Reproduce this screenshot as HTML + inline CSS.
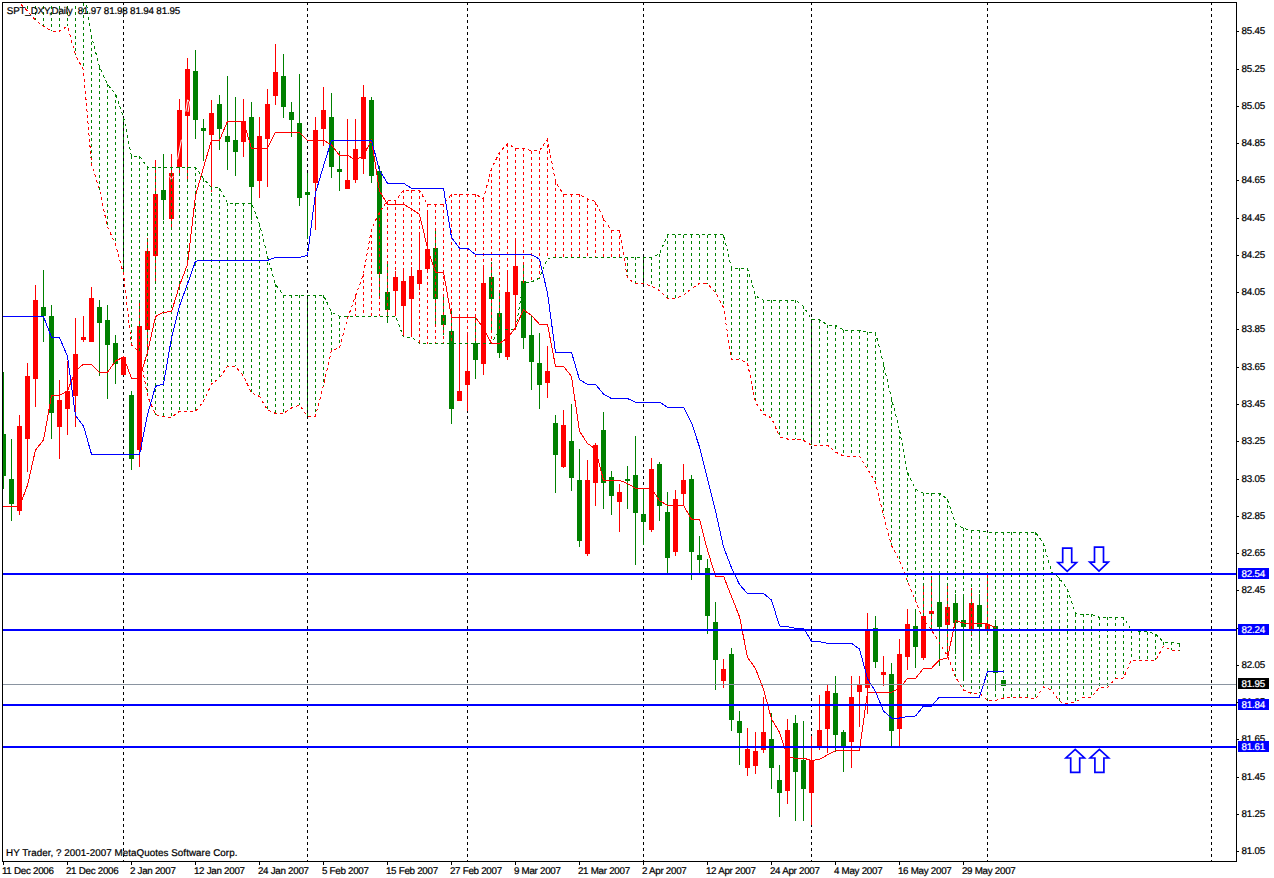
<!DOCTYPE html>
<html><head><meta charset="utf-8"><title>SPT_DXY Daily</title>
<style>
html,body{margin:0;padding:0;background:#fff}
body{width:1274px;height:878px;overflow:hidden}
svg{display:block}
.t{font-family:"Liberation Sans",Arial,sans-serif;font-size:9.8px;fill:#000;stroke:#000;stroke-width:0.22px;text-rendering:geometricPrecision}
.p{letter-spacing:-0.226px}
.d{letter-spacing:-0.277px}
.h{letter-spacing:-0.166px}
.f{letter-spacing:0.06px}
.w{fill:#fff;stroke:#fff}
</style></head><body>
<svg width="1274" height="878" viewBox="0 0 1274 878">
<rect width="1274" height="878" fill="#fff"/>
<defs><clipPath id="c"><rect x="3" y="3" width="1233" height="858"/></clipPath></defs>
<g shape-rendering="crispEdges" clip-path="url(#c)">
<g stroke="#000" stroke-width="1" stroke-dasharray="3 3" stroke-dashoffset="1">
<line x1="123.5" y1="3" x2="123.5" y2="861"/>
<line x1="307.5" y1="3" x2="307.5" y2="861"/>
<line x1="467.5" y1="3" x2="467.5" y2="861"/>
<line x1="643.5" y1="3" x2="643.5" y2="861"/>
<line x1="811.5" y1="3" x2="811.5" y2="861"/>
<line x1="987.5" y1="3" x2="987.5" y2="861"/>
<line x1="1211.5" y1="3" x2="1211.5" y2="861"/>
</g>
<rect x="3" y="372" width="1" height="117" fill="#008000"/><rect x="1" y="434" width="5" height="42" fill="#008000"/>
<rect x="11" y="439" width="1" height="82" fill="#008000"/><rect x="9" y="479" width="5" height="25" fill="#008000"/>
<rect x="19" y="415" width="1" height="100" fill="#ff0000"/><rect x="17" y="426" width="5" height="85" fill="#ff0000"/>
<rect x="27" y="363" width="1" height="109" fill="#ff0000"/><rect x="25" y="376" width="5" height="63" fill="#ff0000"/>
<rect x="35" y="285" width="1" height="122" fill="#ff0000"/><rect x="33" y="300" width="5" height="79" fill="#ff0000"/>
<rect x="43" y="270" width="1" height="72" fill="#008000"/><rect x="41" y="307" width="5" height="9" fill="#008000"/>
<rect x="51" y="305" width="1" height="134" fill="#008000"/><rect x="49" y="316" width="5" height="97" fill="#008000"/>
<rect x="59" y="380" width="1" height="79" fill="#ff0000"/><rect x="57" y="400" width="5" height="27" fill="#ff0000"/>
<rect x="67" y="361" width="1" height="74" fill="#ff0000"/><rect x="65" y="391" width="5" height="18" fill="#ff0000"/>
<rect x="75" y="318" width="1" height="109" fill="#ff0000"/><rect x="73" y="354" width="5" height="42" fill="#ff0000"/>
<rect x="83" y="316" width="1" height="26" fill="#ff0000"/><rect x="81" y="337" width="5" height="3" fill="#ff0000"/>
<rect x="91" y="287" width="1" height="55" fill="#ff0000"/><rect x="89" y="298" width="5" height="44" fill="#ff0000"/>
<rect x="99" y="300" width="1" height="76" fill="#008000"/><rect x="97" y="307" width="5" height="16" fill="#008000"/>
<rect x="107" y="305" width="1" height="94" fill="#008000"/><rect x="105" y="320" width="5" height="25" fill="#008000"/>
<rect x="115" y="335" width="1" height="49" fill="#008000"/><rect x="113" y="343" width="5" height="21" fill="#008000"/>
<rect x="123" y="356" width="1" height="19" fill="#ff0000"/><rect x="121" y="357" width="5" height="18" fill="#ff0000"/>
<rect x="131" y="391" width="1" height="79" fill="#008000"/><rect x="129" y="395" width="5" height="64" fill="#008000"/>
<rect x="139" y="303" width="1" height="164" fill="#ff0000"/><rect x="137" y="326" width="5" height="124" fill="#ff0000"/>
<rect x="147" y="238" width="1" height="111" fill="#ff0000"/><rect x="145" y="251" width="5" height="79" fill="#ff0000"/>
<rect x="155" y="160" width="1" height="124" fill="#ff0000"/><rect x="153" y="194" width="5" height="62" fill="#ff0000"/>
<rect x="163" y="154" width="1" height="66" fill="#008000"/><rect x="161" y="190" width="5" height="10" fill="#008000"/>
<rect x="171" y="154" width="1" height="76" fill="#ff0000"/><rect x="169" y="173" width="5" height="46" fill="#ff0000"/>
<rect x="179" y="99" width="1" height="75" fill="#ff0000"/><rect x="177" y="110" width="5" height="57" fill="#ff0000"/>
<rect x="187" y="58" width="1" height="123" fill="#ff0000"/><rect x="185" y="69" width="5" height="47" fill="#ff0000"/>
<rect x="195" y="50" width="1" height="89" fill="#008000"/><rect x="193" y="71" width="5" height="49" fill="#008000"/>
<rect x="203" y="119" width="1" height="42" fill="#008000"/><rect x="201" y="128" width="5" height="3" fill="#008000"/>
<rect x="211" y="100" width="1" height="92" fill="#ff0000"/><rect x="209" y="113" width="5" height="22" fill="#ff0000"/>
<rect x="219" y="95" width="1" height="55" fill="#008000"/><rect x="217" y="104" width="5" height="25" fill="#008000"/>
<rect x="227" y="76" width="1" height="94" fill="#008000"/><rect x="225" y="136" width="5" height="6" fill="#008000"/>
<rect x="235" y="97" width="1" height="79" fill="#008000"/><rect x="233" y="140" width="5" height="12" fill="#008000"/>
<rect x="243" y="99" width="1" height="58" fill="#ff0000"/><rect x="241" y="121" width="5" height="21" fill="#ff0000"/>
<rect x="251" y="102" width="1" height="118" fill="#008000"/><rect x="249" y="117" width="5" height="70" fill="#008000"/>
<rect x="259" y="117" width="1" height="81" fill="#ff0000"/><rect x="257" y="136" width="5" height="45" fill="#ff0000"/>
<rect x="267" y="89" width="1" height="98" fill="#ff0000"/><rect x="265" y="104" width="5" height="35" fill="#ff0000"/>
<rect x="275" y="44" width="1" height="61" fill="#ff0000"/><rect x="273" y="72" width="5" height="24" fill="#ff0000"/>
<rect x="283" y="54" width="1" height="64" fill="#008000"/><rect x="281" y="76" width="5" height="31" fill="#008000"/>
<rect x="291" y="102" width="1" height="35" fill="#008000"/><rect x="289" y="112" width="5" height="8" fill="#008000"/>
<rect x="299" y="74" width="1" height="132" fill="#008000"/><rect x="297" y="123" width="5" height="75" fill="#008000"/>
<rect x="307" y="173" width="1" height="66" fill="#008000"/><rect x="305" y="192" width="5" height="3" fill="#008000"/>
<rect x="315" y="117" width="1" height="113" fill="#ff0000"/><rect x="313" y="130" width="5" height="53" fill="#ff0000"/>
<rect x="323" y="87" width="1" height="59" fill="#ff0000"/><rect x="321" y="110" width="5" height="19" fill="#ff0000"/>
<rect x="331" y="93" width="1" height="85" fill="#008000"/><rect x="329" y="117" width="5" height="50" fill="#008000"/>
<rect x="339" y="151" width="1" height="40" fill="#008000"/><rect x="337" y="169" width="5" height="3" fill="#008000"/>
<rect x="347" y="119" width="1" height="70" fill="#ff0000"/><rect x="345" y="180" width="5" height="9" fill="#ff0000"/>
<rect x="355" y="119" width="1" height="64" fill="#ff0000"/><rect x="353" y="149" width="5" height="31" fill="#ff0000"/>
<rect x="363" y="85" width="1" height="89" fill="#ff0000"/><rect x="361" y="97" width="5" height="62" fill="#ff0000"/>
<rect x="371" y="97" width="1" height="86" fill="#008000"/><rect x="369" y="100" width="5" height="76" fill="#008000"/>
<rect x="379" y="166" width="1" height="131" fill="#008000"/><rect x="377" y="171" width="5" height="103" fill="#008000"/>
<rect x="387" y="263" width="1" height="60" fill="#008000"/><rect x="385" y="292" width="5" height="18" fill="#008000"/>
<rect x="395" y="271" width="1" height="44" fill="#ff0000"/><rect x="393" y="277" width="5" height="14" fill="#ff0000"/>
<rect x="403" y="269" width="1" height="68" fill="#ff0000"/><rect x="401" y="281" width="5" height="25" fill="#ff0000"/>
<rect x="411" y="267" width="1" height="70" fill="#ff0000"/><rect x="409" y="276" width="5" height="23" fill="#ff0000"/>
<rect x="419" y="233" width="1" height="57" fill="#ff0000"/><rect x="417" y="270" width="5" height="14" fill="#ff0000"/>
<rect x="427" y="210" width="1" height="62" fill="#ff0000"/><rect x="425" y="249" width="5" height="20" fill="#ff0000"/>
<rect x="435" y="229" width="1" height="96" fill="#008000"/><rect x="433" y="248" width="5" height="51" fill="#008000"/>
<rect x="443" y="295" width="1" height="40" fill="#008000"/><rect x="441" y="315" width="5" height="10" fill="#008000"/>
<rect x="451" y="309" width="1" height="115" fill="#008000"/><rect x="449" y="331" width="5" height="78" fill="#008000"/>
<rect x="459" y="317" width="1" height="84" fill="#ff0000"/><rect x="457" y="391" width="5" height="10" fill="#ff0000"/>
<rect x="467" y="332" width="1" height="79" fill="#ff0000"/><rect x="465" y="371" width="5" height="14" fill="#ff0000"/>
<rect x="475" y="318" width="1" height="61" fill="#008000"/><rect x="473" y="343" width="5" height="17" fill="#008000"/>
<rect x="483" y="265" width="1" height="110" fill="#ff0000"/><rect x="481" y="283" width="5" height="81" fill="#ff0000"/>
<rect x="491" y="262" width="1" height="68" fill="#008000"/><rect x="489" y="277" width="5" height="22" fill="#008000"/>
<rect x="499" y="293" width="1" height="65" fill="#008000"/><rect x="497" y="313" width="5" height="40" fill="#008000"/>
<rect x="507" y="270" width="1" height="90" fill="#ff0000"/><rect x="505" y="292" width="5" height="65" fill="#ff0000"/>
<rect x="515" y="239" width="1" height="91" fill="#ff0000"/><rect x="513" y="266" width="5" height="29" fill="#ff0000"/>
<rect x="523" y="265" width="1" height="84" fill="#008000"/><rect x="521" y="281" width="5" height="57" fill="#008000"/>
<rect x="531" y="316" width="1" height="74" fill="#008000"/><rect x="529" y="335" width="5" height="27" fill="#008000"/>
<rect x="539" y="333" width="1" height="76" fill="#008000"/><rect x="537" y="363" width="5" height="22" fill="#008000"/>
<rect x="547" y="346" width="1" height="52" fill="#ff0000"/><rect x="545" y="371" width="5" height="12" fill="#ff0000"/>
<rect x="555" y="415" width="1" height="78" fill="#008000"/><rect x="553" y="423" width="5" height="32" fill="#008000"/>
<rect x="563" y="410" width="1" height="58" fill="#ff0000"/><rect x="561" y="425" width="5" height="42" fill="#ff0000"/>
<rect x="571" y="404" width="1" height="87" fill="#008000"/><rect x="569" y="441" width="5" height="37" fill="#008000"/>
<rect x="579" y="449" width="1" height="98" fill="#008000"/><rect x="577" y="480" width="5" height="61" fill="#008000"/>
<rect x="587" y="460" width="1" height="96" fill="#ff0000"/><rect x="585" y="480" width="5" height="74" fill="#ff0000"/>
<rect x="595" y="443" width="1" height="63" fill="#ff0000"/><rect x="593" y="445" width="5" height="38" fill="#ff0000"/>
<rect x="603" y="412" width="1" height="97" fill="#008000"/><rect x="601" y="430" width="5" height="53" fill="#008000"/>
<rect x="611" y="471" width="1" height="44" fill="#008000"/><rect x="609" y="477" width="5" height="19" fill="#008000"/>
<rect x="619" y="484" width="1" height="48" fill="#ff0000"/><rect x="617" y="492" width="5" height="10" fill="#ff0000"/>
<rect x="627" y="466" width="1" height="43" fill="#008000"/><rect x="625" y="479" width="5" height="2" fill="#008000"/>
<rect x="635" y="436" width="1" height="129" fill="#008000"/><rect x="633" y="475" width="5" height="38" fill="#008000"/>
<rect x="643" y="489" width="1" height="56" fill="#008000"/><rect x="641" y="514" width="5" height="8" fill="#008000"/>
<rect x="651" y="458" width="1" height="74" fill="#ff0000"/><rect x="649" y="469" width="5" height="61" fill="#ff0000"/>
<rect x="659" y="462" width="1" height="59" fill="#008000"/><rect x="657" y="464" width="5" height="42" fill="#008000"/>
<rect x="667" y="492" width="1" height="81" fill="#008000"/><rect x="665" y="512" width="5" height="46" fill="#008000"/>
<rect x="675" y="490" width="1" height="66" fill="#ff0000"/><rect x="673" y="499" width="5" height="53" fill="#ff0000"/>
<rect x="683" y="464" width="1" height="42" fill="#ff0000"/><rect x="681" y="480" width="5" height="14" fill="#ff0000"/>
<rect x="691" y="475" width="1" height="105" fill="#008000"/><rect x="689" y="479" width="5" height="73" fill="#008000"/>
<rect x="699" y="536" width="1" height="38" fill="#008000"/><rect x="697" y="555" width="5" height="5" fill="#008000"/>
<rect x="707" y="559" width="1" height="75" fill="#008000"/><rect x="705" y="568" width="5" height="48" fill="#008000"/>
<rect x="715" y="602" width="1" height="88" fill="#008000"/><rect x="713" y="622" width="5" height="38" fill="#008000"/>
<rect x="723" y="659" width="1" height="29" fill="#ff0000"/><rect x="721" y="669" width="5" height="12" fill="#ff0000"/>
<rect x="731" y="648" width="1" height="83" fill="#008000"/><rect x="729" y="654" width="5" height="66" fill="#008000"/>
<rect x="739" y="711" width="1" height="54" fill="#008000"/><rect x="737" y="721" width="5" height="12" fill="#008000"/>
<rect x="747" y="728" width="1" height="48" fill="#ff0000"/><rect x="745" y="749" width="5" height="19" fill="#ff0000"/>
<rect x="755" y="732" width="1" height="42" fill="#ff0000"/><rect x="753" y="751" width="5" height="15" fill="#ff0000"/>
<rect x="763" y="697" width="1" height="56" fill="#ff0000"/><rect x="761" y="732" width="5" height="18" fill="#ff0000"/>
<rect x="771" y="713" width="1" height="76" fill="#008000"/><rect x="769" y="739" width="5" height="29" fill="#008000"/>
<rect x="779" y="765" width="1" height="52" fill="#008000"/><rect x="777" y="780" width="5" height="13" fill="#008000"/>
<rect x="787" y="719" width="1" height="85" fill="#ff0000"/><rect x="785" y="730" width="5" height="61" fill="#ff0000"/>
<rect x="795" y="715" width="1" height="106" fill="#008000"/><rect x="793" y="723" width="5" height="49" fill="#008000"/>
<rect x="803" y="721" width="1" height="100" fill="#008000"/><rect x="801" y="760" width="5" height="29" fill="#008000"/>
<rect x="811" y="736" width="1" height="89" fill="#ff0000"/><rect x="809" y="760" width="5" height="33" fill="#ff0000"/>
<rect x="819" y="695" width="1" height="55" fill="#ff0000"/><rect x="817" y="730" width="5" height="16" fill="#ff0000"/>
<rect x="827" y="685" width="1" height="68" fill="#ff0000"/><rect x="825" y="691" width="5" height="38" fill="#ff0000"/>
<rect x="835" y="676" width="1" height="76" fill="#008000"/><rect x="833" y="693" width="5" height="42" fill="#008000"/>
<rect x="843" y="730" width="1" height="42" fill="#008000"/><rect x="841" y="732" width="5" height="14" fill="#008000"/>
<rect x="851" y="676" width="1" height="92" fill="#ff0000"/><rect x="849" y="697" width="5" height="45" fill="#ff0000"/>
<rect x="859" y="676" width="1" height="51" fill="#ff0000"/><rect x="857" y="684" width="5" height="8" fill="#ff0000"/>
<rect x="867" y="613" width="1" height="101" fill="#ff0000"/><rect x="865" y="630" width="5" height="58" fill="#ff0000"/>
<rect x="875" y="616" width="1" height="52" fill="#008000"/><rect x="873" y="628" width="5" height="34" fill="#008000"/>
<rect x="883" y="656" width="1" height="30" fill="#ff0000"/><rect x="881" y="672" width="5" height="3" fill="#ff0000"/>
<rect x="891" y="663" width="1" height="83" fill="#008000"/><rect x="889" y="674" width="5" height="57" fill="#008000"/>
<rect x="899" y="639" width="1" height="107" fill="#ff0000"/><rect x="897" y="654" width="5" height="75" fill="#ff0000"/>
<rect x="907" y="609" width="1" height="61" fill="#ff0000"/><rect x="905" y="624" width="5" height="33" fill="#ff0000"/>
<rect x="915" y="609" width="1" height="59" fill="#008000"/><rect x="913" y="626" width="5" height="21" fill="#008000"/>
<rect x="923" y="586" width="1" height="74" fill="#ff0000"/><rect x="921" y="616" width="5" height="42" fill="#ff0000"/>
<rect x="931" y="576" width="1" height="53" fill="#ff0000"/><rect x="929" y="611" width="5" height="3" fill="#ff0000"/>
<rect x="939" y="574" width="1" height="92" fill="#008000"/><rect x="937" y="602" width="5" height="25" fill="#008000"/>
<rect x="947" y="584" width="1" height="74" fill="#ff0000"/><rect x="945" y="607" width="5" height="18" fill="#ff0000"/>
<rect x="955" y="594" width="1" height="60" fill="#008000"/><rect x="953" y="603" width="5" height="20" fill="#008000"/>
<rect x="963" y="594" width="1" height="87" fill="#008000"/><rect x="961" y="620" width="5" height="7" fill="#008000"/>
<rect x="971" y="588" width="1" height="48" fill="#ff0000"/><rect x="969" y="603" width="5" height="26" fill="#ff0000"/>
<rect x="979" y="594" width="1" height="60" fill="#008000"/><rect x="977" y="605" width="5" height="22" fill="#008000"/>
<rect x="987" y="574" width="1" height="61" fill="#ff0000"/><rect x="985" y="624" width="5" height="5" fill="#ff0000"/>
<rect x="995" y="620" width="1" height="69" fill="#008000"/><rect x="993" y="626" width="5" height="47" fill="#008000"/>
<rect x="1003" y="680" width="1" height="6" fill="#008000"/><rect x="1001" y="680" width="5" height="6" fill="#008000"/>
<g stroke="#fff" stroke-width="1" fill="none" shape-rendering="geometricPrecision"><path d="M169.6,176.2 L171.4,180 L173.2,176"/><path d="M177.6,159.4 L181.4,139.7"/><path d="M185.8,111.5 L187.6,99.8 L189.6,102 L188,112"/></g>
<line x1="3.5" y1="-60" x2="3.5" y2="-20" stroke="#008000" stroke-width="1" stroke-dasharray="3 3"/>
<line x1="11.5" y1="-60" x2="11.5" y2="-8" stroke="#008000" stroke-width="1" stroke-dasharray="3 3"/>
<line x1="19.5" y1="-60" x2="19.5" y2="3" stroke="#008000" stroke-width="1" stroke-dasharray="3 3"/>
<line x1="27.5" y1="-60" x2="27.5" y2="11" stroke="#008000" stroke-width="1" stroke-dasharray="3 3"/>
<line x1="35.5" y1="-60" x2="35.5" y2="20" stroke="#008000" stroke-width="1" stroke-dasharray="3 3"/>
<line x1="43.5" y1="-60" x2="43.5" y2="26" stroke="#008000" stroke-width="1" stroke-dasharray="3 3"/>
<line x1="51.5" y1="-60" x2="51.5" y2="31" stroke="#008000" stroke-width="1" stroke-dasharray="3 3"/>
<line x1="59.5" y1="-60" x2="59.5" y2="31" stroke="#008000" stroke-width="1" stroke-dasharray="3 3"/>
<line x1="67.5" y1="-60" x2="67.5" y2="26" stroke="#008000" stroke-width="1" stroke-dasharray="3 3"/>
<line x1="75.5" y1="-60" x2="75.5" y2="55" stroke="#008000" stroke-width="1" stroke-dasharray="3 3"/>
<line x1="83.5" y1="-15" x2="83.5" y2="70" stroke="#008000" stroke-width="1" stroke-dasharray="3 3"/>
<line x1="91.5" y1="36" x2="91.5" y2="164" stroke="#008000" stroke-width="1" stroke-dasharray="3 3"/>
<line x1="99.5" y1="67" x2="99.5" y2="190" stroke="#008000" stroke-width="1" stroke-dasharray="3 3"/>
<line x1="107.5" y1="84" x2="107.5" y2="227" stroke="#008000" stroke-width="1" stroke-dasharray="3 3"/>
<line x1="115.5" y1="94" x2="115.5" y2="244" stroke="#008000" stroke-width="1" stroke-dasharray="3 3"/>
<line x1="123.5" y1="117" x2="123.5" y2="274" stroke="#008000" stroke-width="1" stroke-dasharray="3 3" stroke-dashoffset="4"/>
<line x1="131.5" y1="156" x2="131.5" y2="345" stroke="#008000" stroke-width="1" stroke-dasharray="3 3"/>
<line x1="139.5" y1="156" x2="139.5" y2="352" stroke="#008000" stroke-width="1" stroke-dasharray="3 3"/>
<line x1="147.5" y1="167" x2="147.5" y2="396" stroke="#008000" stroke-width="1" stroke-dasharray="3 3"/>
<line x1="155.5" y1="167" x2="155.5" y2="415" stroke="#008000" stroke-width="1" stroke-dasharray="3 3"/>
<line x1="163.5" y1="167" x2="163.5" y2="416" stroke="#008000" stroke-width="1" stroke-dasharray="3 3"/>
<line x1="171.5" y1="167" x2="171.5" y2="418" stroke="#008000" stroke-width="1" stroke-dasharray="3 3"/>
<line x1="179.5" y1="167" x2="179.5" y2="411" stroke="#008000" stroke-width="1" stroke-dasharray="3 3"/>
<line x1="187.5" y1="167" x2="187.5" y2="411" stroke="#008000" stroke-width="1" stroke-dasharray="3 3"/>
<line x1="195.5" y1="167" x2="195.5" y2="411" stroke="#008000" stroke-width="1" stroke-dasharray="3 3"/>
<line x1="203.5" y1="179" x2="203.5" y2="402" stroke="#008000" stroke-width="1" stroke-dasharray="3 3"/>
<line x1="211.5" y1="187" x2="211.5" y2="384" stroke="#008000" stroke-width="1" stroke-dasharray="3 3"/>
<line x1="219.5" y1="188" x2="219.5" y2="378" stroke="#008000" stroke-width="1" stroke-dasharray="3 3"/>
<line x1="227.5" y1="203" x2="227.5" y2="366" stroke="#008000" stroke-width="1" stroke-dasharray="3 3"/>
<line x1="235.5" y1="203" x2="235.5" y2="366" stroke="#008000" stroke-width="1" stroke-dasharray="3 3"/>
<line x1="243.5" y1="203" x2="243.5" y2="376" stroke="#008000" stroke-width="1" stroke-dasharray="3 3"/>
<line x1="251.5" y1="203" x2="251.5" y2="393" stroke="#008000" stroke-width="1" stroke-dasharray="3 3"/>
<line x1="259.5" y1="224" x2="259.5" y2="396" stroke="#008000" stroke-width="1" stroke-dasharray="3 3"/>
<line x1="267.5" y1="256" x2="267.5" y2="410" stroke="#008000" stroke-width="1" stroke-dasharray="3 3"/>
<line x1="275.5" y1="284" x2="275.5" y2="413" stroke="#008000" stroke-width="1" stroke-dasharray="3 3"/>
<line x1="283.5" y1="295" x2="283.5" y2="413" stroke="#008000" stroke-width="1" stroke-dasharray="3 3"/>
<line x1="291.5" y1="295" x2="291.5" y2="408" stroke="#008000" stroke-width="1" stroke-dasharray="3 3"/>
<line x1="299.5" y1="295" x2="299.5" y2="405" stroke="#008000" stroke-width="1" stroke-dasharray="3 3"/>
<line x1="307.5" y1="295" x2="307.5" y2="416" stroke="#008000" stroke-width="1" stroke-dasharray="3 3" stroke-dashoffset="2"/>
<line x1="315.5" y1="295" x2="315.5" y2="416" stroke="#008000" stroke-width="1" stroke-dasharray="3 3"/>
<line x1="323.5" y1="295" x2="323.5" y2="386" stroke="#008000" stroke-width="1" stroke-dasharray="3 3"/>
<line x1="331.5" y1="312" x2="331.5" y2="350" stroke="#008000" stroke-width="1" stroke-dasharray="3 3"/>
<line x1="339.5" y1="316" x2="339.5" y2="348" stroke="#008000" stroke-width="1" stroke-dasharray="3 3"/>
<line x1="347.5" y1="316" x2="347.5" y2="318" stroke="#008000" stroke-width="1" stroke-dasharray="3 3"/>
<line x1="355.5" y1="296" x2="355.5" y2="316" stroke="#ff0000" stroke-width="1" stroke-dasharray="3 3"/>
<line x1="363.5" y1="274" x2="363.5" y2="316" stroke="#ff0000" stroke-width="1" stroke-dasharray="3 3"/>
<line x1="371.5" y1="229" x2="371.5" y2="316" stroke="#ff0000" stroke-width="1" stroke-dasharray="3 3"/>
<line x1="379.5" y1="212" x2="379.5" y2="316" stroke="#ff0000" stroke-width="1" stroke-dasharray="3 3"/>
<line x1="387.5" y1="201" x2="387.5" y2="316" stroke="#ff0000" stroke-width="1" stroke-dasharray="3 3"/>
<line x1="395.5" y1="201" x2="395.5" y2="316" stroke="#ff0000" stroke-width="1" stroke-dasharray="3 3"/>
<line x1="403.5" y1="190" x2="403.5" y2="337" stroke="#ff0000" stroke-width="1" stroke-dasharray="3 3"/>
<line x1="411.5" y1="190" x2="411.5" y2="337" stroke="#ff0000" stroke-width="1" stroke-dasharray="3 3"/>
<line x1="419.5" y1="190" x2="419.5" y2="344" stroke="#ff0000" stroke-width="1" stroke-dasharray="3 3"/>
<line x1="427.5" y1="204" x2="427.5" y2="344" stroke="#ff0000" stroke-width="1" stroke-dasharray="3 3"/>
<line x1="435.5" y1="204" x2="435.5" y2="344" stroke="#ff0000" stroke-width="1" stroke-dasharray="3 3"/>
<line x1="443.5" y1="204" x2="443.5" y2="344" stroke="#ff0000" stroke-width="1" stroke-dasharray="3 3"/>
<line x1="451.5" y1="194" x2="451.5" y2="344" stroke="#ff0000" stroke-width="1" stroke-dasharray="3 3"/>
<line x1="459.5" y1="194" x2="459.5" y2="344" stroke="#ff0000" stroke-width="1" stroke-dasharray="3 3"/>
<line x1="467.5" y1="194" x2="467.5" y2="344" stroke="#ff0000" stroke-width="1" stroke-dasharray="3 3" stroke-dashoffset="0"/>
<line x1="475.5" y1="194" x2="475.5" y2="344" stroke="#ff0000" stroke-width="1" stroke-dasharray="3 3"/>
<line x1="483.5" y1="199" x2="483.5" y2="344" stroke="#ff0000" stroke-width="1" stroke-dasharray="3 3"/>
<line x1="491.5" y1="168" x2="491.5" y2="344" stroke="#ff0000" stroke-width="1" stroke-dasharray="3 3"/>
<line x1="499.5" y1="152" x2="499.5" y2="330" stroke="#ff0000" stroke-width="1" stroke-dasharray="3 3"/>
<line x1="507.5" y1="144" x2="507.5" y2="330" stroke="#ff0000" stroke-width="1" stroke-dasharray="3 3"/>
<line x1="515.5" y1="148" x2="515.5" y2="330" stroke="#ff0000" stroke-width="1" stroke-dasharray="3 3"/>
<line x1="523.5" y1="148" x2="523.5" y2="283" stroke="#ff0000" stroke-width="1" stroke-dasharray="3 3"/>
<line x1="531.5" y1="151" x2="531.5" y2="282" stroke="#ff0000" stroke-width="1" stroke-dasharray="3 3"/>
<line x1="539.5" y1="151" x2="539.5" y2="278" stroke="#ff0000" stroke-width="1" stroke-dasharray="3 3"/>
<line x1="547.5" y1="139" x2="547.5" y2="258" stroke="#ff0000" stroke-width="1" stroke-dasharray="3 3"/>
<line x1="555.5" y1="182" x2="555.5" y2="257" stroke="#ff0000" stroke-width="1" stroke-dasharray="3 3"/>
<line x1="563.5" y1="194" x2="563.5" y2="257" stroke="#ff0000" stroke-width="1" stroke-dasharray="3 3"/>
<line x1="571.5" y1="194" x2="571.5" y2="257" stroke="#ff0000" stroke-width="1" stroke-dasharray="3 3"/>
<line x1="579.5" y1="194" x2="579.5" y2="257" stroke="#ff0000" stroke-width="1" stroke-dasharray="3 3"/>
<line x1="587.5" y1="199" x2="587.5" y2="257" stroke="#ff0000" stroke-width="1" stroke-dasharray="3 3"/>
<line x1="595.5" y1="202" x2="595.5" y2="257" stroke="#ff0000" stroke-width="1" stroke-dasharray="3 3"/>
<line x1="603.5" y1="218" x2="603.5" y2="257" stroke="#ff0000" stroke-width="1" stroke-dasharray="3 3"/>
<line x1="611.5" y1="230" x2="611.5" y2="257" stroke="#ff0000" stroke-width="1" stroke-dasharray="3 3"/>
<line x1="619.5" y1="230" x2="619.5" y2="257" stroke="#ff0000" stroke-width="1" stroke-dasharray="3 3"/>
<line x1="627.5" y1="257" x2="627.5" y2="278" stroke="#008000" stroke-width="1" stroke-dasharray="3 3"/>
<line x1="635.5" y1="257" x2="635.5" y2="284" stroke="#008000" stroke-width="1" stroke-dasharray="3 3"/>
<line x1="643.5" y1="257" x2="643.5" y2="284" stroke="#008000" stroke-width="1" stroke-dasharray="3 3" stroke-dashoffset="0"/>
<line x1="651.5" y1="257" x2="651.5" y2="286" stroke="#008000" stroke-width="1" stroke-dasharray="3 3"/>
<line x1="659.5" y1="254" x2="659.5" y2="290" stroke="#008000" stroke-width="1" stroke-dasharray="3 3"/>
<line x1="667.5" y1="235" x2="667.5" y2="298" stroke="#008000" stroke-width="1" stroke-dasharray="3 3"/>
<line x1="675.5" y1="235" x2="675.5" y2="298" stroke="#008000" stroke-width="1" stroke-dasharray="3 3"/>
<line x1="683.5" y1="235" x2="683.5" y2="295" stroke="#008000" stroke-width="1" stroke-dasharray="3 3"/>
<line x1="691.5" y1="235" x2="691.5" y2="289" stroke="#008000" stroke-width="1" stroke-dasharray="3 3"/>
<line x1="699.5" y1="235" x2="699.5" y2="283" stroke="#008000" stroke-width="1" stroke-dasharray="3 3"/>
<line x1="707.5" y1="235" x2="707.5" y2="284" stroke="#008000" stroke-width="1" stroke-dasharray="3 3"/>
<line x1="715.5" y1="235" x2="715.5" y2="292" stroke="#008000" stroke-width="1" stroke-dasharray="3 3"/>
<line x1="723.5" y1="235" x2="723.5" y2="308" stroke="#008000" stroke-width="1" stroke-dasharray="3 3"/>
<line x1="731.5" y1="268" x2="731.5" y2="359" stroke="#008000" stroke-width="1" stroke-dasharray="3 3"/>
<line x1="739.5" y1="268" x2="739.5" y2="359" stroke="#008000" stroke-width="1" stroke-dasharray="3 3"/>
<line x1="747.5" y1="268" x2="747.5" y2="363" stroke="#008000" stroke-width="1" stroke-dasharray="3 3"/>
<line x1="755.5" y1="296" x2="755.5" y2="402" stroke="#008000" stroke-width="1" stroke-dasharray="3 3"/>
<line x1="763.5" y1="300" x2="763.5" y2="414" stroke="#008000" stroke-width="1" stroke-dasharray="3 3"/>
<line x1="771.5" y1="300" x2="771.5" y2="418" stroke="#008000" stroke-width="1" stroke-dasharray="3 3"/>
<line x1="779.5" y1="300" x2="779.5" y2="437" stroke="#008000" stroke-width="1" stroke-dasharray="3 3"/>
<line x1="787.5" y1="300" x2="787.5" y2="439" stroke="#008000" stroke-width="1" stroke-dasharray="3 3"/>
<line x1="795.5" y1="300" x2="795.5" y2="439" stroke="#008000" stroke-width="1" stroke-dasharray="3 3"/>
<line x1="803.5" y1="306" x2="803.5" y2="440" stroke="#008000" stroke-width="1" stroke-dasharray="3 3"/>
<line x1="811.5" y1="319" x2="811.5" y2="445" stroke="#008000" stroke-width="1" stroke-dasharray="3 3" stroke-dashoffset="2"/>
<line x1="819.5" y1="320" x2="819.5" y2="445" stroke="#008000" stroke-width="1" stroke-dasharray="3 3"/>
<line x1="827.5" y1="325" x2="827.5" y2="445" stroke="#008000" stroke-width="1" stroke-dasharray="3 3"/>
<line x1="835.5" y1="326" x2="835.5" y2="452" stroke="#008000" stroke-width="1" stroke-dasharray="3 3"/>
<line x1="843.5" y1="330" x2="843.5" y2="456" stroke="#008000" stroke-width="1" stroke-dasharray="3 3"/>
<line x1="851.5" y1="330" x2="851.5" y2="456" stroke="#008000" stroke-width="1" stroke-dasharray="3 3"/>
<line x1="859.5" y1="330" x2="859.5" y2="456" stroke="#008000" stroke-width="1" stroke-dasharray="3 3"/>
<line x1="867.5" y1="332" x2="867.5" y2="469" stroke="#008000" stroke-width="1" stroke-dasharray="3 3"/>
<line x1="875.5" y1="333" x2="875.5" y2="482" stroke="#008000" stroke-width="1" stroke-dasharray="3 3"/>
<line x1="883.5" y1="364" x2="883.5" y2="515" stroke="#008000" stroke-width="1" stroke-dasharray="3 3"/>
<line x1="891.5" y1="399" x2="891.5" y2="546" stroke="#008000" stroke-width="1" stroke-dasharray="3 3"/>
<line x1="899.5" y1="430" x2="899.5" y2="561" stroke="#008000" stroke-width="1" stroke-dasharray="3 3"/>
<line x1="907.5" y1="472" x2="907.5" y2="582" stroke="#008000" stroke-width="1" stroke-dasharray="3 3"/>
<line x1="915.5" y1="489" x2="915.5" y2="601" stroke="#008000" stroke-width="1" stroke-dasharray="3 3"/>
<line x1="923.5" y1="493" x2="923.5" y2="620" stroke="#008000" stroke-width="1" stroke-dasharray="3 3"/>
<line x1="931.5" y1="493" x2="931.5" y2="630" stroke="#008000" stroke-width="1" stroke-dasharray="3 3"/>
<line x1="939.5" y1="493" x2="939.5" y2="643" stroke="#008000" stroke-width="1" stroke-dasharray="3 3"/>
<line x1="947.5" y1="499" x2="947.5" y2="656" stroke="#008000" stroke-width="1" stroke-dasharray="3 3"/>
<line x1="955.5" y1="524" x2="955.5" y2="677" stroke="#008000" stroke-width="1" stroke-dasharray="3 3"/>
<line x1="963.5" y1="528" x2="963.5" y2="690" stroke="#008000" stroke-width="1" stroke-dasharray="3 3"/>
<line x1="971.5" y1="530" x2="971.5" y2="693" stroke="#008000" stroke-width="1" stroke-dasharray="3 3"/>
<line x1="979.5" y1="530" x2="979.5" y2="693" stroke="#008000" stroke-width="1" stroke-dasharray="3 3"/>
<line x1="987.5" y1="532" x2="987.5" y2="700" stroke="#008000" stroke-width="1" stroke-dasharray="3 3" stroke-dashoffset="2"/>
<line x1="995.5" y1="532" x2="995.5" y2="700" stroke="#008000" stroke-width="1" stroke-dasharray="3 3"/>
<line x1="1003.5" y1="532" x2="1003.5" y2="698" stroke="#008000" stroke-width="1" stroke-dasharray="3 3"/>
<line x1="1011.5" y1="532" x2="1011.5" y2="697" stroke="#008000" stroke-width="1" stroke-dasharray="3 3"/>
<line x1="1019.5" y1="532" x2="1019.5" y2="697" stroke="#008000" stroke-width="1" stroke-dasharray="3 3"/>
<line x1="1027.5" y1="532" x2="1027.5" y2="697" stroke="#008000" stroke-width="1" stroke-dasharray="3 3"/>
<line x1="1035.5" y1="532" x2="1035.5" y2="699" stroke="#008000" stroke-width="1" stroke-dasharray="3 3"/>
<line x1="1043.5" y1="543" x2="1043.5" y2="687" stroke="#008000" stroke-width="1" stroke-dasharray="3 3"/>
<line x1="1051.5" y1="572" x2="1051.5" y2="690" stroke="#008000" stroke-width="1" stroke-dasharray="3 3"/>
<line x1="1059.5" y1="578" x2="1059.5" y2="702" stroke="#008000" stroke-width="1" stroke-dasharray="3 3"/>
<line x1="1067.5" y1="589" x2="1067.5" y2="704" stroke="#008000" stroke-width="1" stroke-dasharray="3 3"/>
<line x1="1075.5" y1="614" x2="1075.5" y2="702" stroke="#008000" stroke-width="1" stroke-dasharray="3 3"/>
<line x1="1083.5" y1="614" x2="1083.5" y2="697" stroke="#008000" stroke-width="1" stroke-dasharray="3 3"/>
<line x1="1091.5" y1="614" x2="1091.5" y2="697" stroke="#008000" stroke-width="1" stroke-dasharray="3 3"/>
<line x1="1099.5" y1="617" x2="1099.5" y2="687" stroke="#008000" stroke-width="1" stroke-dasharray="3 3"/>
<line x1="1107.5" y1="617" x2="1107.5" y2="687" stroke="#008000" stroke-width="1" stroke-dasharray="3 3"/>
<line x1="1115.5" y1="617" x2="1115.5" y2="678" stroke="#008000" stroke-width="1" stroke-dasharray="3 3"/>
<line x1="1123.5" y1="617" x2="1123.5" y2="678" stroke="#008000" stroke-width="1" stroke-dasharray="3 3"/>
<line x1="1131.5" y1="630" x2="1131.5" y2="660" stroke="#008000" stroke-width="1" stroke-dasharray="3 3"/>
<line x1="1139.5" y1="632" x2="1139.5" y2="660" stroke="#008000" stroke-width="1" stroke-dasharray="3 3"/>
<line x1="1147.5" y1="632" x2="1147.5" y2="660" stroke="#008000" stroke-width="1" stroke-dasharray="3 3"/>
<line x1="1155.5" y1="634" x2="1155.5" y2="660" stroke="#008000" stroke-width="1" stroke-dasharray="3 3"/>
<line x1="1163.5" y1="642" x2="1163.5" y2="646" stroke="#008000" stroke-width="1" stroke-dasharray="3 3"/>
<line x1="1171.5" y1="642" x2="1171.5" y2="650" stroke="#008000" stroke-width="1" stroke-dasharray="3 3"/>
<line x1="1179.5" y1="644" x2="1179.5" y2="651" stroke="#008000" stroke-width="1" stroke-dasharray="3 3"/>
<polyline points="3.5,-20.0 11.5,-8.0 19.5,3.0 27.5,11.0 35.5,20.0 43.5,26.5 51.5,31.0 59.5,31.0 67.5,26.3 75.5,55.0 83.5,70.0 91.5,164.0 99.5,190.0 107.5,227.0 115.5,244.0 123.5,274.0 131.5,345.0 139.5,352.0 147.5,396.0 155.5,414.6 163.5,416.5 171.5,417.5 179.5,411.2 187.5,411.2 195.5,411.2 203.5,401.5 211.5,384.0 219.5,378.0 227.5,366.5 235.5,366.5 243.5,376.0 251.5,393.0 259.5,396.4 267.5,410.0 275.5,413.4 283.5,413.4 291.5,408.0 299.5,405.3 307.5,416.0 315.5,416.0 323.5,385.5 331.5,350.0 339.5,348.2 347.5,318.5 355.5,296.0 363.5,274.0 371.5,229.0 379.5,212.0 387.5,200.7 395.5,200.7 403.5,190.2 411.5,190.2 419.5,190.2 427.5,204.3 435.5,204.3 443.5,204.3 451.5,194.4 459.5,194.4 467.5,194.4 475.5,194.4 483.5,198.7 491.5,168.5 499.5,152.5 507.5,143.7 515.5,148.2 523.5,148.2 531.5,151.0 539.5,150.6 547.5,139.3 555.5,181.7 563.5,194.5 571.5,194.5 579.5,194.5 587.5,198.8 595.5,201.6 603.5,218.5 611.5,230.4 619.5,230.4 627.5,278.5 635.5,283.5 643.5,283.5 651.5,286.2 659.5,290.5 667.5,298.4 675.5,298.4 683.5,295.2 691.5,288.6 699.5,283.3 707.5,283.9 715.5,292.4 723.5,307.5 731.5,359.3 739.5,359.3 747.5,363.0 755.5,402.3 763.5,414.0 771.5,418.0 779.5,436.8 787.5,439.0 795.5,439.0 803.5,440.4 811.5,445.3 819.5,445.3 827.5,445.3 835.5,452.0 843.5,456.0 851.5,456.3 859.5,456.3 867.5,469.1 875.5,482.4 883.5,515.4 891.5,545.5 899.5,560.6 907.5,581.5 915.5,601.0 923.5,620.0 931.5,630.0 939.5,643.0 947.5,656.0 955.5,677.0 963.5,690.0 971.5,693.4 979.5,693.4 987.5,700.4 995.5,700.4 1003.5,698.0 1011.5,697.0 1019.5,697.0 1027.5,697.0 1035.5,699.2 1043.5,687.0 1051.5,690.1 1059.5,701.5 1067.5,703.9 1075.5,702.0 1083.5,697.0 1091.5,697.0 1099.5,687.4 1107.5,687.4 1115.5,678.4 1123.5,678.0 1131.5,660.0 1139.5,660.4 1147.5,660.4 1155.5,660.4 1163.5,646.3 1171.5,650.0 1179.5,650.6" fill="none" stroke="#ff0000" stroke-width="1" stroke-dasharray="3 3"/>
<polyline points="3.5,-60.0 11.5,-60.0 19.5,-60.0 27.5,-60.0 35.5,-60.0 43.5,-60.0 51.5,-60.0 59.5,-60.0 67.5,-60.0 75.5,-60.0 83.5,-15.0 91.5,36.0 99.5,67.0 107.5,84.5 115.5,94.0 123.5,117.0 131.5,156.0 139.5,156.0 147.5,167.3 155.5,167.3 163.5,167.3 171.5,167.3 179.5,167.3 187.5,167.3 195.5,167.3 203.5,178.8 211.5,187.3 219.5,188.0 227.5,203.2 235.5,203.2 243.5,203.2 251.5,203.2 259.5,224.0 267.5,256.0 275.5,284.5 283.5,295.3 291.5,295.3 299.5,295.3 307.5,295.3 315.5,295.3 323.5,295.3 331.5,312.0 339.5,316.3 347.5,316.3 355.5,316.3 363.5,316.3 371.5,316.3 379.5,316.3 387.5,316.3 395.5,316.3 403.5,337.0 411.5,337.3 419.5,343.5 427.5,343.5 435.5,343.5 443.5,343.5 451.5,343.5 459.5,343.5 467.5,343.5 475.5,343.5 483.5,343.5 491.5,343.5 499.5,329.6 507.5,329.6 515.5,329.6 523.5,282.7 531.5,282.0 539.5,278.0 547.5,258.3 555.5,257.3 563.5,257.3 571.5,257.3 579.5,257.3 587.5,257.3 595.5,257.3 603.5,257.3 611.5,257.3 619.5,257.3 627.5,257.3 635.5,257.3 643.5,257.3 651.5,257.3 659.5,254.0 667.5,234.6 675.5,234.6 683.5,234.6 691.5,234.6 699.5,234.6 707.5,234.6 715.5,234.6 723.5,234.6 731.5,268.2 739.5,268.4 747.5,268.4 755.5,295.8 763.5,300.4 771.5,300.3 779.5,300.2 787.5,300.2 795.5,300.2 803.5,306.4 811.5,319.1 819.5,319.6 827.5,325.0 835.5,325.5 843.5,330.0 851.5,330.3 859.5,330.5 867.5,332.3 875.5,332.7 883.5,363.5 891.5,398.7 899.5,429.5 907.5,472.5 915.5,489.4 923.5,493.3 931.5,493.3 939.5,493.3 947.5,499.3 955.5,523.8 963.5,528.2 971.5,530.4 979.5,530.4 987.5,532.3 995.5,532.3 1003.5,532.3 1011.5,532.3 1019.5,532.3 1027.5,532.3 1035.5,532.3 1043.5,543.3 1051.5,571.5 1059.5,578.4 1067.5,589.2 1075.5,613.8 1083.5,614.2 1091.5,614.4 1099.5,617.4 1107.5,617.4 1115.5,617.4 1123.5,617.4 1131.5,630.0 1139.5,631.5 1147.5,631.5 1155.5,634.0 1163.5,642.0 1171.5,642.5 1179.5,643.6" fill="none" stroke="#008000" stroke-width="1" stroke-dasharray="3 3"/>
<polyline points="-4.5,506.4 3.5,506.4 11.5,506.4 19.5,506.4 27.5,485.3 35.5,450.0 43.5,440.0 51.5,395.8 59.5,395.5 67.5,391.0 75.5,370.5 83.5,364.3 91.5,364.3 99.5,372.2 107.5,372.2 115.5,361.0 123.5,357.0 131.5,378.2 139.5,378.2 147.5,352.5 155.5,316.5 163.5,312.2 171.5,311.8 179.5,285.5 187.5,264.5 195.5,195.8 203.5,167.5 211.5,140.2 219.5,140.2 227.5,121.4 235.5,121.4 243.5,121.4 251.5,148.3 259.5,148.3 267.5,148.3 275.5,132.3 283.5,132.3 291.5,132.3 299.5,132.3 307.5,140.2 315.5,140.2 323.5,140.2 331.5,145.0 339.5,155.3 347.5,155.3 355.5,160.0 363.5,155.4 371.5,140.0 379.5,191.0 387.5,204.3 395.5,204.3 403.5,204.3 411.5,208.8 419.5,214.5 427.5,248.0 435.5,272.4 443.5,272.4 451.5,317.2 459.5,317.2 467.5,317.2 475.5,317.2 483.5,328.6 491.5,343.3 499.5,343.3 507.5,338.0 515.5,327.5 523.5,309.8 531.5,315.5 539.5,324.3 547.5,324.3 555.5,366.3 563.5,366.3 571.5,376.5 579.5,431.2 587.5,443.5 595.5,449.0 603.5,480.4 611.5,480.4 619.5,480.4 627.5,483.5 635.5,488.3 643.5,488.3 651.5,488.3 659.5,500.8 667.5,505.2 675.5,505.2 683.5,505.2 691.5,519.4 699.5,519.4 707.5,550.3 715.5,576.1 723.5,576.1 731.5,596.5 739.5,616.7 747.5,657.2 755.5,668.5 763.5,689.4 771.5,719.0 779.5,732.2 787.5,757.0 795.5,758.2 803.5,758.2 811.5,760.4 819.5,759.5 827.5,754.8 835.5,750.6 843.5,750.6 851.5,750.6 859.5,750.6 867.5,692.2 875.5,692.2 883.5,692.2 891.5,692.2 899.5,688.5 907.5,678.4 915.5,678.4 923.5,668.3 931.5,668.3 939.5,659.8 947.5,658.0 955.5,620.7 963.5,623.0 971.5,623.5 979.5,623.5 987.5,623.7 995.5,627.8" fill="none" stroke="#ff0000" stroke-width="1"/>
<polyline points="-4.5,316.5 3.5,316.5 11.5,316.5 19.5,316.5 27.5,316.5 35.5,316.5 43.5,316.5 51.5,337.4 59.5,337.4 67.5,356.5 75.5,415.6 83.5,426.0 91.5,454.2 99.5,454.2 107.5,454.2 115.5,454.2 123.5,454.2 131.5,454.2 139.5,454.2 147.5,414.6 155.5,386.3 163.5,384.0 171.5,338.0 179.5,306.0 187.5,284.0 195.5,261.2 203.5,260.4 211.5,260.4 219.5,260.4 227.5,260.4 235.5,260.4 243.5,260.4 251.5,260.4 259.5,260.4 267.5,260.4 275.5,257.4 283.5,257.4 291.5,257.4 299.5,257.4 307.5,255.5 315.5,193.0 323.5,166.0 331.5,140.3 339.5,140.3 347.5,140.3 355.5,140.3 363.5,140.3 371.5,140.3 379.5,170.4 387.5,183.2 395.5,183.2 403.5,183.2 411.5,188.3 419.5,188.3 427.5,188.3 435.5,188.3 443.5,188.3 451.5,237.5 459.5,248.3 467.5,248.3 475.5,254.5 483.5,254.5 491.5,254.5 499.5,254.5 507.5,254.5 515.5,254.5 523.5,254.5 531.5,254.5 539.5,259.2 547.5,293.0 555.5,352.4 563.5,352.4 571.5,352.4 579.5,379.6 587.5,384.3 595.5,384.3 603.5,394.0 611.5,398.5 619.5,398.5 627.5,398.5 635.5,402.2 643.5,402.2 651.5,402.2 659.5,402.2 667.5,407.2 675.5,407.2 683.5,407.2 691.5,422.6 699.5,447.0 707.5,479.0 715.5,511.0 723.5,547.0 731.5,567.7 739.5,584.6 747.5,593.5 755.5,593.5 763.5,593.5 771.5,600.0 779.5,626.0 787.5,626.6 795.5,628.3 803.5,628.3 811.5,641.2 819.5,641.7 827.5,643.4 835.5,643.4 843.5,643.4 851.5,643.4 859.5,649.0 867.5,678.6 875.5,691.5 883.5,711.0 891.5,718.0 899.5,718.0 907.5,716.5 915.5,716.0 923.5,706.0 931.5,706.0 939.5,697.0 947.5,697.0 955.5,697.0 963.5,697.0 971.5,697.0 979.5,697.0 987.5,671.7 995.5,671.7 1003.5,671.7" fill="none" stroke="#0000ff" stroke-width="1"/>
<rect x="3" y="684" width="1233" height="1" fill="#8a94a0"/>
<rect x="3" y="573" width="1233" height="2" fill="#0000ff"/>
<rect x="3" y="629" width="1233" height="2" fill="#0000ff"/>
<rect x="3" y="704" width="1233" height="2" fill="#0000ff"/>
<rect x="3" y="746" width="1233" height="2" fill="#0000ff"/>
</g>
<g fill="#fff" stroke="#0000ff" stroke-width="1.7" stroke-linejoin="miter">
<path d="M1062.7,548.2 H1071.7 V562.5 H1076.5 L1067.2,571.3 L1057.9,562.5 H1062.7 Z"/>
<path d="M1094.5,547.2 H1103.5 V562.2 H1108.3 L1099.0,571.0 L1089.7,562.2 H1094.5 Z"/>
<path d="M1075.2,749.3 L1084.5,758.0 H1079.7 V772.3 H1070.7 V758.0 H1065.9 Z"/>
<path d="M1099.4,749.3 L1108.7,758.0 H1103.9 V772.3 H1094.9 V758.0 H1090.1000000000001 Z"/>
</g>
<g shape-rendering="crispEdges" fill="#000">
<rect x="2" y="2" width="1235" height="1"/>
<rect x="2" y="2" width="1" height="860"/>
<rect x="1236" y="2" width="1" height="860"/>
<rect x="2" y="861" width="1235" height="1"/>
<rect x="1237" y="31" width="2" height="1"/>
<rect x="1237" y="69" width="2" height="1"/>
<rect x="1237" y="106" width="2" height="1"/>
<rect x="1237" y="143" width="2" height="1"/>
<rect x="1237" y="180" width="2" height="1"/>
<rect x="1237" y="218" width="2" height="1"/>
<rect x="1237" y="255" width="2" height="1"/>
<rect x="1237" y="292" width="2" height="1"/>
<rect x="1237" y="329" width="2" height="1"/>
<rect x="1237" y="367" width="2" height="1"/>
<rect x="1237" y="404" width="2" height="1"/>
<rect x="1237" y="441" width="2" height="1"/>
<rect x="1237" y="479" width="2" height="1"/>
<rect x="1237" y="516" width="2" height="1"/>
<rect x="1237" y="553" width="2" height="1"/>
<rect x="1237" y="590" width="2" height="1"/>
<rect x="1237" y="628" width="2" height="1"/>
<rect x="1237" y="665" width="2" height="1"/>
<rect x="1237" y="702" width="2" height="1"/>
<rect x="1237" y="739" width="2" height="1"/>
<rect x="1237" y="777" width="2" height="1"/>
<rect x="1237" y="814" width="2" height="1"/>
<rect x="1237" y="851" width="2" height="1"/>
<rect x="3" y="862" width="1" height="3"/>
<rect x="67" y="862" width="1" height="3"/>
<rect x="131" y="862" width="1" height="3"/>
<rect x="195" y="862" width="1" height="3"/>
<rect x="259" y="862" width="1" height="3"/>
<rect x="323" y="862" width="1" height="3"/>
<rect x="387" y="862" width="1" height="3"/>
<rect x="451" y="862" width="1" height="3"/>
<rect x="515" y="862" width="1" height="3"/>
<rect x="579" y="862" width="1" height="3"/>
<rect x="643" y="862" width="1" height="3"/>
<rect x="707" y="862" width="1" height="3"/>
<rect x="771" y="862" width="1" height="3"/>
<rect x="835" y="862" width="1" height="3"/>
<rect x="899" y="862" width="1" height="3"/>
<rect x="963" y="862" width="1" height="3"/>
</g>
<text class="t p" x="1241.6" y="34">85.45</text>
<text class="t p" x="1241.6" y="72">85.25</text>
<text class="t p" x="1241.6" y="109">85.05</text>
<text class="t p" x="1241.6" y="146">84.85</text>
<text class="t p" x="1241.6" y="183">84.65</text>
<text class="t p" x="1241.6" y="221">84.45</text>
<text class="t p" x="1241.6" y="258">84.25</text>
<text class="t p" x="1241.6" y="295">84.05</text>
<text class="t p" x="1241.6" y="332">83.85</text>
<text class="t p" x="1241.6" y="370">83.65</text>
<text class="t p" x="1241.6" y="407">83.45</text>
<text class="t p" x="1241.6" y="444">83.25</text>
<text class="t p" x="1241.6" y="482">83.05</text>
<text class="t p" x="1241.6" y="519">82.85</text>
<text class="t p" x="1241.6" y="556">82.65</text>
<text class="t p" x="1241.6" y="593">82.45</text>
<text class="t p" x="1241.6" y="631">82.25</text>
<text class="t p" x="1241.6" y="668">82.05</text>
<text class="t p" x="1241.6" y="705">81.85</text>
<text class="t p" x="1241.6" y="742">81.65</text>
<text class="t p" x="1241.6" y="780">81.45</text>
<text class="t p" x="1241.6" y="817">81.25</text>
<text class="t p" x="1241.6" y="854">81.05</text>
<rect x="1238" y="568" width="31" height="11" fill="#0000ff" shape-rendering="crispEdges"/><text class="t p w" x="1241.6" y="577">82.54</text>
<rect x="1238" y="624" width="31" height="11" fill="#0000ff" shape-rendering="crispEdges"/><text class="t p w" x="1241.6" y="633">82.24</text>
<rect x="1238" y="678" width="31" height="11" fill="#000" shape-rendering="crispEdges"/><text class="t p w" x="1241.6" y="687">81.95</text>
<rect x="1238" y="699" width="31" height="11" fill="#0000ff" shape-rendering="crispEdges"/><text class="t p w" x="1241.6" y="708">81.84</text>
<rect x="1238" y="741" width="31" height="11" fill="#0000ff" shape-rendering="crispEdges"/><text class="t p w" x="1241.6" y="750">81.61</text>
<text class="t d" x="1.9" y="874">11 Dec 2006</text>
<text class="t d" x="65.9" y="874">21 Dec 2006</text>
<text class="t d" x="129.9" y="874">2 Jan 2007</text>
<text class="t d" x="193.9" y="874">12 Jan 2007</text>
<text class="t d" x="257.9" y="874">24 Jan 2007</text>
<text class="t d" x="321.9" y="874">5 Feb 2007</text>
<text class="t d" x="385.9" y="874">15 Feb 2007</text>
<text class="t d" x="449.9" y="874">27 Feb 2007</text>
<text class="t d" x="513.9" y="874">9 Mar 2007</text>
<text class="t d" x="577.9" y="874">21 Mar 2007</text>
<text class="t d" x="641.9" y="874">2 Apr 2007</text>
<text class="t d" x="705.9" y="874">12 Apr 2007</text>
<text class="t d" x="769.9" y="874">24 Apr 2007</text>
<text class="t d" x="833.9" y="874">4 May 2007</text>
<text class="t d" x="897.9" y="874">16 May 2007</text>
<text class="t d" x="961.9" y="874">29 May 2007</text>
<text class="t h" x="6.8" y="14" xml:space="preserve">SPT_DXY,Daily  81.97 81.98 81.94 81.95</text>
<text class="t f" x="6" y="856">HY Trader, ? 2001-2007 MetaQuotes Software Corp.</text>
</svg>
</body></html>
